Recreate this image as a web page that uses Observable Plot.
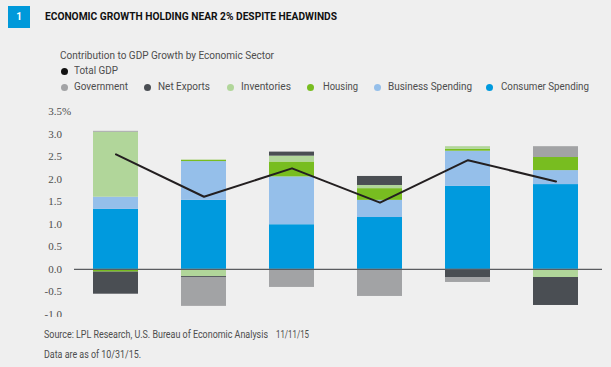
<!DOCTYPE html>
<html>
<head>
<meta charset="utf-8">
<script src="https://cdn.jsdelivr.net/npm/d3@7"></script>
<script src="https://cdn.jsdelivr.net/npm/@observablehq/plot@0.6"></script>
<style>
  html, body { margin: 0; padding: 0; background: #efefef; width: 611px; height: 367px; overflow: hidden; }
  body { position: relative; font-family: Roboto, "Liberation Sans", sans-serif; }
  .abs { position: absolute; white-space: nowrap; transform-origin: 0 50%; line-height: 1; }
  #badge { position: absolute; left: 8px; top: 6px; width: 22px; height: 22px; background: #0099da; color: #fff; font-weight: 700; font-size: 10px; text-align: center; line-height: 22px; }
  #title { left: 45px; top: 12px; font-weight: 700; font-size: 10.5px; color: #111; }
  #subtitle { left: 60px; top: 50.5px; font-size: 10.5px; color: #4d4d4d; }
  .leg { font-size: 10.5px; color: #4d4d4d; }
  .dot { position: absolute; width: 7px; height: 7px; border-radius: 50%; }
  .foot { font-size: 10px; color: #4d4d4d; }
  #chart { position: absolute; left: 0; top: 100px; }
</style>
</head>
<body>
<div id="badge">1</div>
<div id="title" class="abs" data-w="292">ECONOMIC GROWTH HOLDING NEAR 2% DESPITE HEADWINDS</div>
<div id="subtitle" class="abs" data-w="214">Contribution to GDP Growth by Economic Sector</div>
<div id="legend"></div>
<div id="chart"></div>
<div class="abs foot" style="left:44px; top:330px;" data-w="224">Source: LPL Research, U.S. Bureau of Economic Analysis</div>
<div class="abs foot" style="left:276px; top:330px;" data-w="33">11/11/15</div>
<div class="abs foot" style="left:44px; top:350px;" data-w="97">Data are as of 10/31/15.</div>
<script>
// ---- data ----
const years = ["2010", "2011", "2012", "2013", "2014", "2015 YTD"];
const sectors = ["Consumer Spending", "Business Spending", "Housing", "Inventories", "Net Exports", "Government"];
const consumer   = [1.33, 1.53, 0.99, 1.15, 1.84, 1.88];
const business   = [0.27, 0.86, 1.06, 0.38, 0.78, 0.31];
const housing    = [-0.06, 0.03, 0.33, 0.26, 0.04, 0.29];
const inventories= [1.44, -0.16, 0.13, 0.07, 0.06, -0.18];
const netExports = [-0.49, -0.02, 0.09, 0.20, -0.18, -0.62];
const government = [0.02, -0.64, -0.40, -0.60, -0.11, 0.24];
const totalGDP   = [2.55, 1.61, 2.24, 1.48, 2.42, 1.95];
const yTicks = [-1, -0.5, 0, 0.5, 1, 1.5, 2, 2.5, 3, 3.5];
const sectorColors = ["#009ade", "#95bfea", "#78bd20", "#b1d69a", "#4a4e53", "#a2a3a5"];

const seriesValues = [consumer, business, housing, inventories, netExports, government];
const rows = [];
years.forEach((yr, i) => {
  sectors.forEach((s, j) => rows.push({year: yr, sector: s, value: seriesValues[j][i]}));
});
const gdpRows = years.map((yr, i) => ({year: yr, value: totalGDP[i]}));

// ---- legend ----
const legend = document.getElementById("legend");
function addLegend(label, color, dotX, textX, cy, w) {
  const d = document.createElement("div");
  d.className = "dot";
  d.style.left = (dotX - 3.5) + "px";
  d.style.top = (cy - 3.5) + "px";
  d.style.background = color;
  legend.appendChild(d);
  const t = document.createElement("div");
  t.className = "abs leg";
  t.textContent = label;
  t.style.left = textX + "px";
  t.style.top = (cy - 5.5) + "px";
  t.dataset.w = w;
  legend.appendChild(t);
}
addLegend("Total GDP", "#111", 64, 74, 71, 44);
const legItems = [
  ["Government", "#a2a3a5", 64, 74, 54],
  ["Net Exports", "#4a4e53", 147, 158, 52],
  ["Inventories", "#b1d69a", 230, 241, 50],
  ["Housing", "#78bd20", 310, 322.5, 35],
  ["Business Spending", "#95bfea", 377, 388, 84],
  ["Consumer Spending", "#009ade", 489, 500.5, 88]
];
legItems.forEach(([l, c, dx, tx, w]) => addLegend(l, c, dx, tx, 87.5, w));

// ---- chart ----
const chart = Plot.plot({
  width: 611,
  height: 217,
  marginLeft: 71,
  marginRight: 12,
  marginTop: 11,
  marginBottom: 3,
  style: {background: "transparent", overflow: "hidden"},
  x: {domain: years, paddingInner: 0.49, paddingOuter: 0.24, axis: null},
  y: {domain: [-1, 3.5], axis: null},
  color: {domain: sectors, range: sectorColors},
  marks: [
    Plot.axisY({
      ticks: yTicks, tickSize: 0, tickPadding: 9.5,
      tickFormat: d => d.toFixed(1),
      fontFamily: "Liberation Serif, serif", fontSize: 11, fill: "#4d4d4d", label: null
    }),
    Plot.text([3.5], {y: d => d, text: () => "%", frameAnchor: "left", textAnchor: "start", dx: -9.5,
      fontFamily: "Liberation Serif, serif", fontSize: 11, fill: "#4d4d4d"}),
    Plot.barY(rows, Plot.stackY({x: "year", y: "value", fill: "sector", order: sectors})),
    Plot.ruleY([0], {stroke: "#5a5c60", strokeWidth: 1.2, insetLeft: 3, insetRight: -3}),
    Plot.lineY(gdpRows, {x: "year", y: "value", stroke: "#231f20", strokeWidth: 2})
  ]
});
document.getElementById("chart").appendChild(chart);

// fit text widths to the reference
document.querySelectorAll("[data-w]").forEach(el => {
  const w = el.getBoundingClientRect().width;
  const target = +el.dataset.w;
  if (w > 0) el.style.transform = `scaleX(${target / w})`;
});
</script>
</body>
</html>
